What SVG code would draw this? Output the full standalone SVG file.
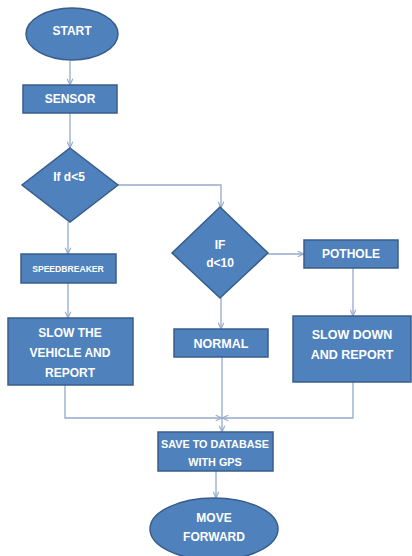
<svg xmlns="http://www.w3.org/2000/svg" width="412" height="556" viewBox="0 0 412 556">
<defs>
<style>
.shape{fill:#4F81BD;stroke:#385D8A;stroke-width:1.5}
.t{font-family:"Liberation Sans",Arial,sans-serif;font-weight:bold;fill:#FFFFFF;text-anchor:middle;font-size:12px}
.c{fill:none;stroke:#95AACB;stroke-width:1.3}
</style>
<marker id="ah" viewBox="0 0 10 10" refX="10" refY="5" markerWidth="7" markerHeight="7" orient="auto" markerUnits="userSpaceOnUse">
<path d="M1,1 L10,5 L1,9" fill="none" stroke="#95AACB" stroke-width="1.6"/>
</marker>
</defs>
<rect width="412" height="556" fill="#FFFFFF"/>
<g id="connectors">
<path class="c" d="M70,61 V85" marker-end="url(#ah)"/>
<path class="c" d="M70,113 V148" marker-end="url(#ah)"/>
<path class="c" d="M118,185 H221 V208" marker-end="url(#ah)"/>
<path class="c" d="M68,222 V254" marker-end="url(#ah)"/>
<path class="c" d="M68,283 V318" marker-end="url(#ah)"/>
<path class="c" d="M268,254 H304" marker-end="url(#ah)"/>
<path class="c" d="M221,298 V329" marker-end="url(#ah)"/>
<path class="c" d="M353,268 V316" marker-end="url(#ah)"/>
<path class="c" d="M222,357 V432" marker-end="url(#ah)"/>
<path class="c" d="M65,385 V418 H222" marker-end="url(#ah)"/>
<path class="c" d="M353,382 V418 H222" marker-end="url(#ah)"/>
<path class="c" d="M216,471 V498" marker-end="url(#ah)"/>
</g>
<g id="start">
<ellipse class="shape" cx="72" cy="34" rx="46" ry="26"/>
<text class="t" x="72" y="35" font-size="11.5">START</text>
</g>
<g id="sensor">
<rect class="shape" x="23" y="85" width="94" height="28"/>
<text class="t" x="70" y="103">SENSOR</text>
</g>
<g id="dec1">
<polygon class="shape" points="70,148 118,185 70,222 22,185"/>
<text class="t" x="69" y="181" font-size="12.5">If d&lt;5</text>
</g>
<g id="speedbreaker">
<rect class="shape" x="21" y="254" width="95" height="29"/>
<text class="t" x="68" y="272" style="font-size:8.6px">SPEEDBREAKER</text>
</g>
<g id="slowvehicle">
<rect class="shape" x="8" y="318" width="125" height="67"/>
<text class="t" x="70" y="337">SLOW THE</text>
<text class="t" x="70" y="357">VEHICLE AND</text>
<text class="t" x="70" y="377">REPORT</text>
</g>
<g id="dec2">
<polygon class="shape" points="220,207 268,253 220,298 172,253"/>
<text class="t" x="220" y="249">IF</text>
<text class="t" x="220" y="267">d&lt;10</text>
</g>
<g id="pothole">
<rect class="shape" x="304" y="240" width="94" height="28"/>
<text class="t" x="351" y="258">POTHOLE</text>
</g>
<g id="normal">
<rect class="shape" x="174" y="329" width="94" height="28"/>
<text class="t" x="221" y="348" style="font-size:12.5px">NORMAL</text>
</g>
<g id="slowdown">
<rect class="shape" x="293" y="316" width="118" height="66"/>
<text class="t" x="352" y="339" style="font-size:12.5px">SLOW DOWN</text>
<text class="t" x="352" y="359" style="font-size:12.5px">AND REPORT</text>
</g>
<g id="save">
<rect class="shape" x="158" y="432" width="115" height="39"/>
<text class="t" x="215" y="448" style="font-size:10.8px">SAVE TO DATABASE</text>
<text class="t" x="215" y="466" style="font-size:10.8px">WITH GPS</text>
</g>
<g id="moveforward">
<ellipse class="shape" cx="214" cy="529" rx="64" ry="31"/>
<text class="t" x="214" y="522">MOVE</text>
<text class="t" x="214" y="541">FORWARD</text>
</g>
</svg>
